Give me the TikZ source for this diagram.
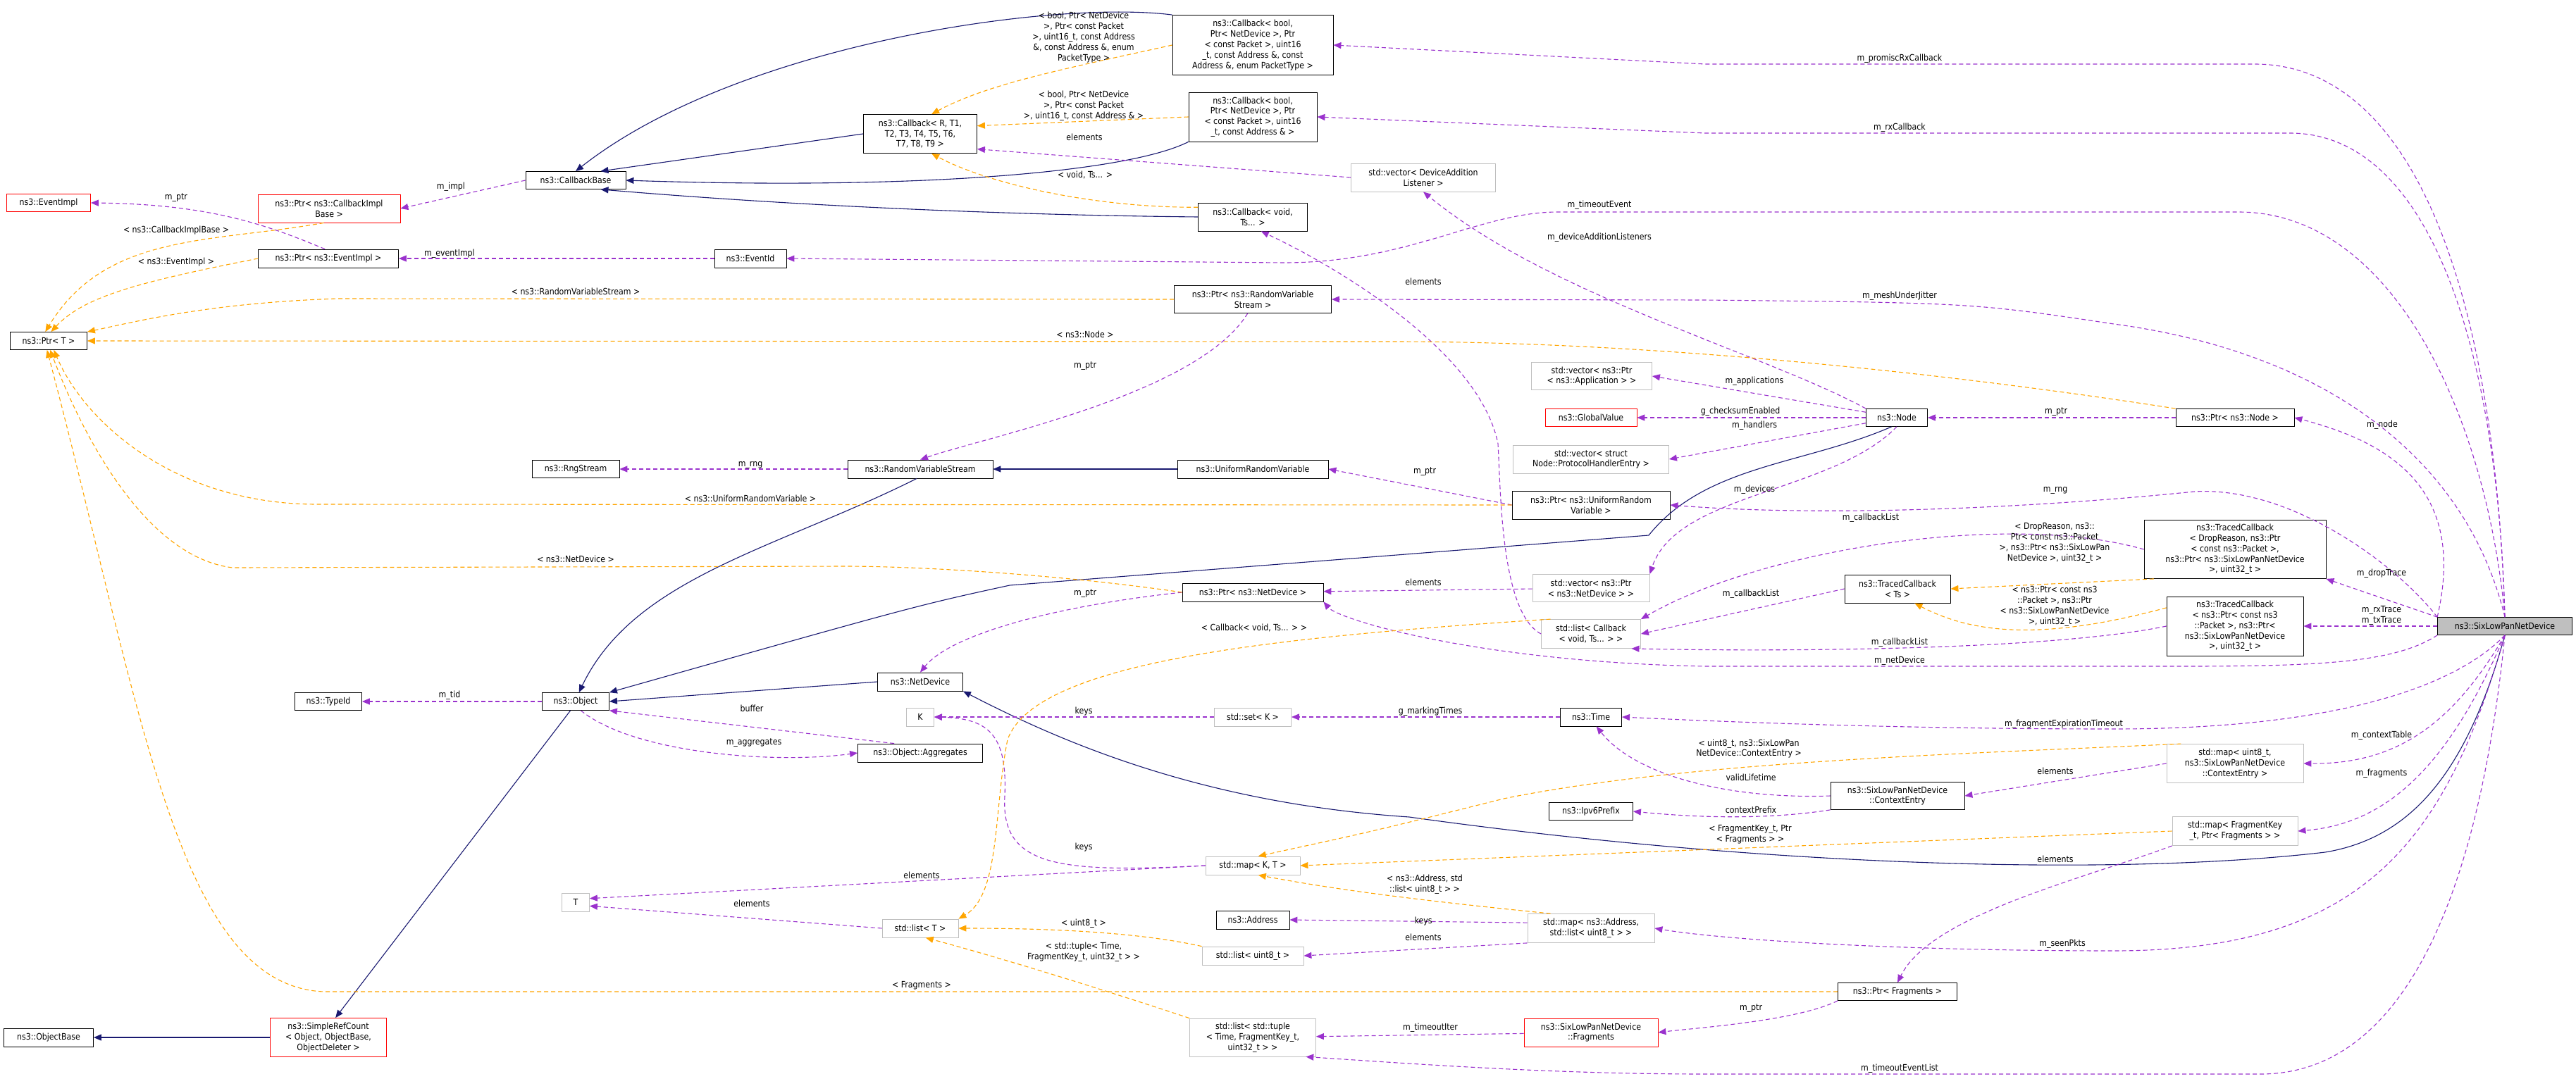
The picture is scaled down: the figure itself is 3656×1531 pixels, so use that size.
\documentclass[tikz,border=0pt]{standalone}
\usepackage{fontspec}
\setmainfont{DejaVu Sans}[FakeStretch=0.88]
\usepackage{tikz}
\usetikzlibrary{arrows.meta}

\definecolor{memc}{HTML}{9A32CD}
\definecolor{tplc}{HTML}{FFA500}
\definecolor{inhc}{HTML}{191970}
\definecolor{grayc}{HTML}{BFBFBF}

\tikzset{
  box/.style={draw, line width=0.8pt, inner sep=1pt, align=center, fill=white},
  gbox/.style={box, draw=grayc},
  rbox/.style={box, draw=red},
  wh/.style 2 args={minimum width=#1pt, minimum height=#2pt},
  mem/.style={draw=memc, dashed, dash pattern=on 6pt off 4pt, line width=1.1pt,
    -{Triangle[length=11pt,width=9pt,fill=memc]}},
  tpl/.style={mem, draw=tplc, -{Triangle[length=11pt,width=9pt,fill=tplc]}},
  inh/.style={draw=inhc, line width=1.1pt, -{Triangle[length=11pt,width=9pt,fill=inhc]}},
  lbl/.style={inner sep=0pt, align=center}
}

\begin{document}
\begin{tikzpicture}[x=1pt, y=1pt, font=\fontsize{12.5}{14.8}\selectfont]
  \useasboundingbox (0,0) rectangle (3656,-1531);

  % classes
  \node[box, wh={142}{25}] (cbBase) at (817,-256) {ns3::CallbackBase};
  \node[rbox, wh={202}{40}] (cbImpl) at (467,-296) {ns3::Ptr< ns3::CallbackImpl\\Base >};
  \node[rbox, wh={119}{25}] (eventImpl) at (69,-288) {ns3::EventImpl};
  \node[box, wh={199}{26}] (ptrEvent) at (466,-367) {ns3::Ptr< ns3::EventImpl >};
  \node[box, wh={102}{26}] (eventId) at (1065,-367) {ns3::EventId};
  \node[box, wh={109}{25}] (ptrT) at (69,-484) {ns3::Ptr< T >};
  \node[box, wh={124}{25}] (rngStream) at (817,-666) {ns3::RngStream};
  \node[box, wh={228}{85}] (cbPkt) at (1778,-64) {ns3::Callback< bool,\\Ptr< NetDevice >, Ptr\\< const Packet >, uint16\\\_t, const Address \&, const\\Address \&, enum PacketType >};
  \node[box, wh={161}{55}] (cbRT) at (1306,-190) {ns3::Callback< R, T1,\\T2, T3, T4, T5, T6,\\T7, T8, T9 >};
  \node[box, wh={182}{70}] (cbAddr) at (1778,-166) {ns3::Callback< bool,\\Ptr< NetDevice >, Ptr\\< const Packet >, uint16\\\_t, const Address \& >};
  \node[gbox, wh={205}{40}] (vecDAL) at (2020,-252) {std::vector< DeviceAddition\\Listener >};
  \node[box, wh={155}{40}] (cbVoid) at (1778,-308) {ns3::Callback< void,\\Ts... >};
  \node[box, wh={223}{39}] (ptrRVS) at (1778,-425) {ns3::Ptr< ns3::RandomVariable\\Stream >};
  \node[gbox, wh={171}{39}] (vecApp) at (2259,-534) {std::vector< ns3::Ptr\\< ns3::Application > >};
  \node[rbox, wh={130}{25}] (globalValue) at (2258,-593) {ns3::GlobalValue};
  \node[gbox, wh={221}{40}] (vecPHE) at (2258,-652) {std::vector< struct\\Node::ProtocolHandlerEntry >};
  \node[box, wh={206}{26}] (rvs) at (1306,-666) {ns3::RandomVariableStream};
  \node[box, wh={214}{26}] (urv) at (1778,-666) {ns3::UniformRandomVariable};
  \node[box, wh={224}{40}] (ptrURV) at (2258,-717) {ns3::Ptr< ns3::UniformRandom\\Variable >};
  \node[box, wh={87}{25}] (node) at (2692,-593) {ns3::Node};
  \node[box, wh={168}{25}] (ptrNode) at (3172,-593) {ns3::Ptr< ns3::Node >};
  \node[box, wh={258}{83}] (tcDrop) at (3172,-780) {ns3::TracedCallback\\< DropReason, ns3::Ptr\\< const ns3::Packet >,\\ns3::Ptr< ns3::SixLowPanNetDevice\\>, uint32\_t >};
  \node[box, wh={191}{25}, fill=grayc] (six) at (3555,-889) {ns3::SixLowPanNetDevice};
  \node[box, wh={150}{40}] (tcTs) at (2693,-836) {ns3::TracedCallback\\< Ts >};
  \node[box, wh={194}{84}] (tcPtr) at (3172,-889) {ns3::TracedCallback\\< ns3::Ptr< const ns3\\::Packet >, ns3::Ptr<\\ns3::SixLowPanNetDevice\\>, uint32\_t >};
  \node[gbox, wh={194}{55}] (mapU8) at (3172,-1084) {std::map< uint8\_t,\\ns3::SixLowPanNetDevice\\::ContextEntry >};
  \node[box, wh={190}{39}] (contextEntry) at (2693,-1130) {ns3::SixLowPanNetDevice\\::ContextEntry};
  \node[gbox, wh={178}{41}] (mapFK) at (3172,-1180) {std::map< FragmentKey\\\_t, Ptr< Fragments > >};
  \node[box, wh={169}{25}] (ptrFrag) at (2693,-1408) {ns3::Ptr< Fragments >};
  \node[box, wh={200}{26}] (ptrNetDev) at (1778,-841) {ns3::Ptr< ns3::NetDevice >};
  \node[gbox, wh={166}{39}] (vecNetDev) at (2258,-835) {std::vector< ns3::Ptr\\< ns3::NetDevice > >};
  \node[gbox, wh={141}{41}] (listCb) at (2258,-900) {std::list< Callback\\< void, Ts... > >};
  \node[box, wh={121}{26}] (netDev) at (1306,-968) {ns3::NetDevice};
  \node[gbox, wh={39}{26}] (K) at (1306,-1018) {K};
  \node[gbox, wh={109}{26}] (setK) at (1778,-1018) {std::set< K >};
  \node[box, wh={87}{26}] (time) at (2258,-1018) {ns3::Time};
  \node[box, wh={177}{26}] (aggregates) at (1306,-1069) {ns3::Object::Aggregates};
  \node[box, wh={119}{25}] (ipv6) at (2258,-1152) {ns3::Ipv6Prefix};
  \node[gbox, wh={134}{26}] (mapKT) at (1778,-1229) {std::map< K, T >};
  \node[box, wh={104}{26}] (address) at (1778,-1306) {ns3::Address};
  \node[gbox, wh={180}{41}] (mapAddr) at (2258,-1318) {std::map< ns3::Address,\\std::list< uint8\_t > >};
  \node[gbox, wh={108}{26}] (listT) at (1306,-1318) {std::list< T >};
  \node[gbox, wh={144}{26}] (listU8) at (1778,-1357) {std::list< uint8\_t >};
  \node[gbox, wh={179}{54}] (listTuple) at (1778,-1473) {std::list< std::tuple\\< Time, FragmentKey\_t,\\uint32\_t > >};
  \node[rbox, wh={190}{40}] (fragments) at (2258,-1466) {ns3::SixLowPanNetDevice\\::Fragments};
  \node[box, wh={95}{25}] (typeId) at (466,-996) {ns3::TypeId};
  \node[box, wh={95}{25}] (object) at (817,-996) {ns3::Object};
  \node[gbox, wh={39}{26}] (T) at (817,-1281) {T};
  \node[box, wh={127}{26}] (objBase) at (69,-1473) {ns3::ObjectBase};
  \node[rbox, wh={165}{55}] (simpleRef) at (466,-1473) {ns3::SimpleRefCount\\< Object, ObjectBase,\\ObjectDeleter >};

  % inheritance
  \draw[inh] (cbPkt.north west) .. controls (1500,0) and (1050,-60) .. (cbBase.north);
  \draw[inh] (cbRT.west) -- (cbBase.20);
  \draw[inh] (cbAddr.south west) .. controls (1600,-245) and (1300,-270) .. (cbBase.east);
  \draw[inh] (cbVoid.west) .. controls (1400,-305) and (1100,-290) .. (cbBase.-20);
  \draw[inh] (urv) -- (rvs);
  \draw[inh] (rvs.250) .. controls (1100,-780) and (900,-820) .. (object.70);
  \draw[inh] (node.240) .. controls (2560,-660) and (2420,-660) .. (2340,-760)
    -- (1433,-831) .. controls (1300,-860) .. (object.north east);
  \draw[inh] (netDev.west) -- (object.east);
  \draw[inh] (six.south) .. controls (3500,-1100) and (3420,-1190) .. (3300,-1210)
    .. controls (3000,-1245) and (2500,-1230) .. (2000,-1160)
    .. controls (1700,-1140) and (1500,-1050) .. (netDev.south east);
  \draw[inh] (object.240) -- (simpleRef.70);
  \draw[inh] (simpleRef) -- (objBase);

  % members
  \draw[mem] (cbBase.west) -- (cbImpl.east);
  \draw[mem] (ptrEvent.110) .. controls (380,-320) and (300,-290) .. (eventImpl.east);
  \draw[mem] (eventId) -- (ptrEvent);
  \draw[mem] (object) -- (typeId);
  \draw[mem] (six.north) .. controls (3530,-600) and (3400,-301) .. (3177,-301)
    -- (2211,-301) .. controls (2100,-301) and (2000,-373) .. (1822,-373) -- (eventId.east);
  \draw[mem] (six.north) .. controls (3540,-400) and (3420,-91) .. (3200,-91) -- (2420,-91) -- (cbPkt.east);
  \draw[mem] (six.north) .. controls (3545,-500) and (3450,-189) .. (3250,-189) -- (2420,-189) -- (cbAddr.east);
  \draw[mem] (vecDAL.west) -- (cbRT.-15);
  \draw[mem] (node.north west) .. controls (2500,-500) and (2200,-420) .. (vecDAL.south);
  \draw[mem] (six.north) .. controls (3500,-650) and (3300,-500) .. (3000,-460)
    .. controls (2800,-430) .. (2420,-426) -- (ptrRVS.east);
  \draw[mem] (ptrRVS.250) .. controls (1700,-560) and (1400,-620) .. (rvs.north);
  \draw[mem] (rvs) -- (rngStream);
  \draw[mem] (ptrURV.west) -- (urv.east);
  \draw[mem] (six.north west) .. controls (3400,-800) and (3250,-690) .. (3114,-698)
    .. controls (2900,-720) and (2600,-735) .. (ptrURV.east);
  \draw[mem] (node.170) -- (vecApp.east);
  \draw[mem] (node) -- (globalValue);
  \draw[mem] (node.190) -- (vecPHE.east);
  \draw[mem] (node.south) .. controls (2600,-700) and (2380,-700) .. (vecNetDev.north east);
  \draw[mem] (ptrNode) -- (node);
  \draw[mem] (six.north west) .. controls (3500,-700) and (3400,-630) .. (ptrNode.east);
  \draw[mem] (listCb.west) .. controls (2130,-870) and (2130,-700) .. (2126,-630)
    .. controls (2100,-500) and (1900,-380) .. (cbVoid.-60);
  \draw[mem] (tcTs.west) -- (listCb.east);
  \draw[mem] (tcDrop.west) .. controls (2850,-725) and (2500,-780) .. (listCb.north east);
  \draw[mem] (tcPtr.west) .. controls (2900,-925) and (2500,-925) .. (listCb.-20);
  \draw[mem] (vecNetDev) -- (ptrNetDev);
  \draw[mem] (ptrNetDev.west) .. controls (1500,-860) and (1350,-900) .. (netDev.north);
  \draw[mem] (six.south west) .. controls (3400,-940) and (3300,-946) .. (3100,-946)
    -- (2420,-946) .. controls (2100,-940) and (1900,-880) .. (ptrNetDev.south east);
  \draw[mem] (six.north west) -- (tcDrop.south east);
  \draw[mem] (six) -- (tcPtr);
  \draw[mem] (six.south) .. controls (3480,-980) and (3300,-1035) .. (3000,-1035)
    .. controls (2700,-1035) and (2450,-1025) .. (time.east);
  \draw[mem] (time) -- (setK);
  \draw[mem] (setK) -- (K);
  \draw[mem] (mapKT.west) .. controls (1500,-1240) and (1420,-1230) .. (1426,-1130)
    .. controls (1430,-1040) and (1400,-1020) .. (K.east);
  \draw[mem] (aggregates.160) -- (object.-15);
  \draw[mem] (object.-60) .. controls (900,-1070) and (1100,-1085) .. (aggregates.west);
  \draw[mem] (mapKT.west) -- (T.15);
  \draw[mem] (listT.west) -- (T.-15);
  \draw[mem] (contextEntry.west) .. controls (2450,-1135) and (2320,-1100) .. (time.-60);
  \draw[mem] (contextEntry.south west) .. controls (2500,-1165) and (2400,-1160) .. (ipv6.east);
  \draw[mem] (mapU8.west) -- (contextEntry.east);
  \draw[mem] (six.south) .. controls (3480,-1030) and (3400,-1085) .. (mapU8.east);
  \draw[mem] (six.south) .. controls (3470,-1100) and (3380,-1170) .. (mapFK.east);
  \draw[mem] (mapFK.south west) .. controls (2950,-1250) and (2740,-1300) .. (ptrFrag.north);
  \draw[mem] (mapAddr.175) -- (address.east);
  \draw[mem] (mapAddr.south west) -- (listU8.east);
  \draw[mem] (six.south) .. controls (3470,-1200) and (3350,-1350) .. (3000,-1350)
    .. controls (2700,-1350) and (2450,-1335) .. (mapAddr.east);
  \draw[mem] (ptrFrag.south west) .. controls (2550,-1450) and (2400,-1460) .. (fragments.east);
  \draw[mem] (fragments) -- (listTuple);
  \draw[mem] (six.south) .. controls (3520,-1250) and (3420,-1525) .. (3208,-1525)
    -- (2420,-1525) .. controls (2200,-1525) and (2000,-1510) .. (listTuple.-20);

  % template instances
  \draw[tpl] (cbPkt.west) .. controls (1500,-100) and (1400,-120) .. (cbRT.60);
  \draw[tpl] (cbAddr.west) -- (cbRT.8);
  \draw[tpl] (cbVoid.170) .. controls (1550,-295) and (1400,-260) .. (cbRT.-60);
  \draw[tpl] (cbImpl.-110) .. controls (300,-345) and (150,-330) .. (ptrT.110);
  \draw[tpl] (ptrEvent.west) .. controls (200,-400) and (120,-420) .. (ptrT.75);
  \draw[tpl] (ptrRVS.west) -- (480,-424) .. controls (300,-430) and (200,-455) .. (ptrT.north east);
  \draw[tpl] (ptrNode.north west) .. controls (2700,-520) and (2300,-485) .. (1978,-485) -- (ptrT.east);
  \draw[tpl] (ptrURV.west) -- (450,-716) .. controls (250,-716) and (120,-600) .. (ptrT.-60);
  \draw[tpl] (ptrNetDev.west) .. controls (1500,-815) and (1300,-804) .. (1200,-804)
    -- (330,-806) .. controls (200,-790) and (110,-600) .. (ptrT.-80);
  \draw[tpl] (ptrFrag.west) -- (460,-1408) .. controls (250,-1400) and (200,-1000) .. (ptrT.-100);
  \draw[tpl] (tcDrop.200) -- (tcTs.east);
  \draw[tpl] (tcPtr.165) .. controls (2900,-910) and (2800,-900) .. (tcTs.-40);
  \draw[tpl] (listCb.160) .. controls (1800,-905) and (1470,-940) .. (1430,-1050)
    .. controls (1410,-1150) and (1420,-1270) .. (listT.north east);
  \draw[tpl] (mapU8.160) .. controls (2800,-1070) and (2400,-1080) .. (2134,-1134)
    .. controls (1950,-1180) .. (mapKT.60);
  \draw[tpl] (mapFK.west) -- (mapKT.east);
  \draw[tpl] (mapAddr.160) .. controls (1980,-1275) and (1880,-1260) .. (mapKT.-60);
  \draw[tpl] (listU8.north west) .. controls (1600,-1320) and (1450,-1318) .. (listT.east);
  \draw[tpl] (listTuple.north west) .. controls (1550,-1400) and (1420,-1360) .. (listT.-60);

  % edge labels
  \node[lbl] (lImpl) at (640,-265) {m\_impl};
  \node[lbl] (lEvPtr) at (250,-281) {m\_ptr};
  \node[lbl] (lEvImpl) at (638,-360) {m\_eventImpl};
  \node[lbl] (lTid) at (638,-987) {m\_tid};
  \node[lbl] (lTimeout) at (2270,-291) {m\_timeoutEvent};
  \node[lbl] (lPromisc) at (2696,-83) {m\_promiscRxCallback};
  \node[lbl] (lRx) at (2696,-181) {m\_rxCallback};
  \node[lbl] (lDalEl) at (1539,-195) {elements};
  \node[lbl] (lDal) at (2270,-337) {m\_deviceAdditionListeners};
  \node[lbl] (lJitter) at (2696,-420) {m\_meshUnderJitter};
  \node[lbl] (lRvsPtr) at (1540,-520) {m\_ptr};
  \node[lbl] (lRng) at (1065,-660) {m\_rng};
  \node[lbl] (lUrvPtr) at (2022,-670) {m\_ptr};
  \node[lbl] (lRng2) at (2917,-696) {m\_rng};
  \node[lbl] (lApps) at (2490,-541) {m\_applications};
  \node[lbl] (lCheck) at (2470,-584) {g\_checksumEnabled};
  \node[lbl] (lHandlers) at (2490,-604) {m\_handlers};
  \node[lbl] (lDevices) at (2490,-695) {m\_devices};
  \node[lbl] (lNodePtr) at (2918,-585) {m\_ptr};
  \node[lbl] (lNode) at (3381,-603) {m\_node};
  \node[lbl] (lCbEl) at (2020,-400) {elements};
  \node[lbl] (lCbList1) at (2485,-843) {m\_callbackList};
  \node[lbl] (lCbList2) at (2655,-735) {m\_callbackList};
  \node[lbl] (lCbList3) at (2696,-912) {m\_callbackList};
  \node[lbl] (lNdEl) at (2020,-827) {elements};
  \node[lbl] (lNdPtr) at (1540,-843) {m\_ptr};
  \node[lbl] (lNetDev) at (2696,-938) {m\_netDevice};
  \node[lbl] (lDrop) at (3380,-814) {m\_dropTrace};
  \node[lbl] (lRxTx) at (3380,-874) {m\_rxTrace\\m\_txTrace};
  \node[lbl] (lFragExp) at (2929,-1028) {m\_fragmentExpirationTimeout};
  \node[lbl] (lMarking) at (2030,-1010) {g\_markingTimes};
  \node[lbl] (lKeys1) at (1538,-1010) {keys};
  \node[lbl] (lKeys2) at (1538,-1203) {keys};
  \node[lbl] (lBuffer) at (1067,-1006) {buffer};
  \node[lbl] (lAggr) at (1070,-1055) {m\_aggregates};
  \node[lbl] (lTEl1) at (1308,-1243) {elements};
  \node[lbl] (lTEl2) at (1067,-1283) {elements};
  \node[lbl] (lValid) at (2485,-1104) {validLifetime};
  \node[lbl] (lPrefix) at (2485,-1150) {contextPrefix};
  \node[lbl] (lCeEl) at (2917,-1095) {elements};
  \node[lbl] (lCtx) at (3380,-1044) {m\_contextTable};
  \node[lbl] (lFrags) at (3380,-1098) {m\_fragments};
  \node[lbl] (lFkEl) at (2917,-1220) {elements};
  \node[lbl] (lAddrKeys) at (2020,-1308) {keys};
  \node[lbl] (lAddrEl) at (2020,-1331) {elements};
  \node[lbl] (lSeen) at (2927,-1340) {m\_seenPkts};
  \node[lbl] (lFragPtr) at (2485,-1432) {m\_ptr};
  \node[lbl] (lIter) at (2030,-1459) {m\_timeoutIter};
  \node[lbl] (lEvList) at (2696,-1517) {m\_timeoutEventList};
  \node[lbl] (tPkt) at (1538,-53) {< bool, Ptr< NetDevice\\>, Ptr< const Packet\\>, uint16\_t, const Address\\\&, const Address \&, enum\\PacketType >};
  \node[lbl] (tAddr) at (1538,-150) {< bool, Ptr< NetDevice\\>, Ptr< const Packet\\>, uint16\_t, const Address \& >};
  \node[lbl] (tVoid) at (1540,-248) {< void, Ts... >};
  \node[lbl] (tCbImpl) at (250,-327) {< ns3::CallbackImplBase >};
  \node[lbl] (tEvImpl) at (250,-372) {< ns3::EventImpl >};
  \node[lbl] (tRvs) at (817,-414) {< ns3::RandomVariableStream >};
  \node[lbl] (tNode) at (1540,-475) {< ns3::Node >};
  \node[lbl] (tUrv) at (1065,-708) {< ns3::UniformRandomVariable >};
  \node[lbl] (tNetDev) at (817,-794) {< ns3::NetDevice >};
  \node[lbl] (tFrag) at (1308,-1399) {< Fragments >};
  \node[lbl] (tDrop) at (2916,-771) {< DropReason, ns3::\\Ptr< const ns3::Packet\\>, ns3::Ptr< ns3::SixLowPan\\NetDevice >, uint32\_t >};
  \node[lbl] (tPtrPkt) at (2916,-861) {< ns3::Ptr< const ns3\\::Packet >, ns3::Ptr\\< ns3::SixLowPanNetDevice\\>, uint32\_t >};
  \node[lbl] (tCbList) at (1780,-891) {< Callback< void, Ts... > >};
  \node[lbl] (tCtx) at (2482,-1063) {< uint8\_t, ns3::SixLowPan\\NetDevice::ContextEntry >};
  \node[lbl] (tFk) at (2484,-1185) {< FragmentKey\_t, Ptr\\< Fragments > >};
  \node[lbl] (tAddrList) at (2022,-1256) {< ns3::Address, std\\::list< uint8\_t > >};
  \node[lbl] (tU8) at (1538,-1311) {< uint8\_t >};
  \node[lbl] (tTuple) at (1538,-1352) {< std::tuple< Time,\\FragmentKey\_t, uint32\_t > >};
\end{tikzpicture}
\end{document}
